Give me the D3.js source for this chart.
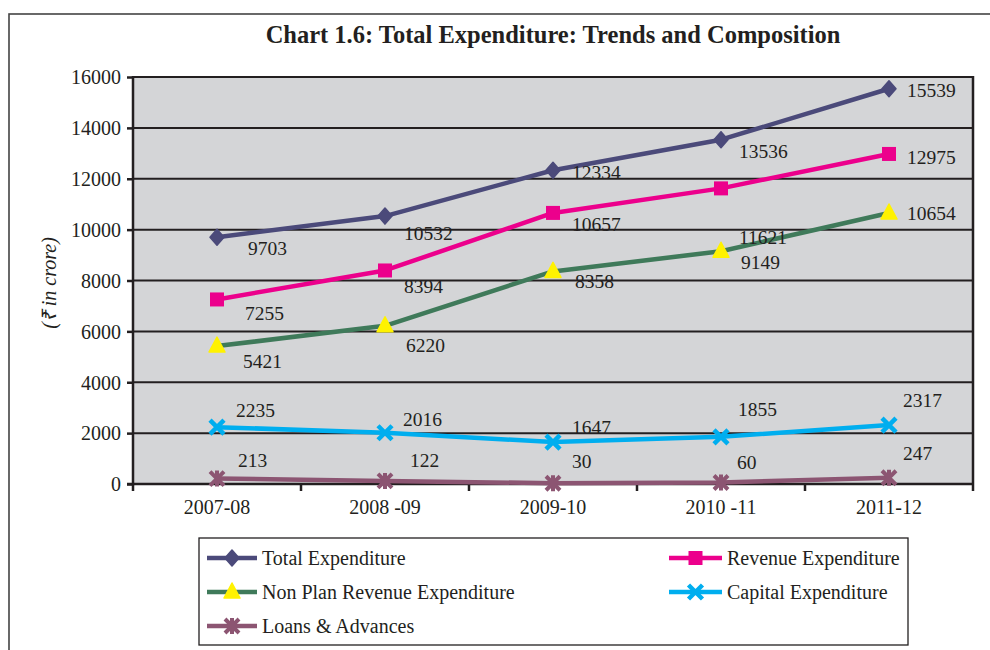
<!DOCTYPE html>
<html><head><meta charset="utf-8">
<script src="https://cdn.jsdelivr.net/npm/d3@7"></script>
<style>
html,body{margin:0;padding:0;background:#fff;}
svg{display:block;font-family:"Liberation Serif","Times New Roman",serif;}
</style></head>
<body><svg id="c" width="990" height="650"></svg>
<script>
const categories = ["2007-08", "2008 -09", "2009-10", "2010 -11", "2011-12"];
const totalExpenditure = [9703, 10532, 12334, 13536, 15539];
const revenueExpenditure = [7255, 8394, 10657, 11621, 12975];
const nonPlanRevenueExpenditure = [5421, 6220, 8358, 9149, 10654];
const capitalExpenditure = [2235, 2016, 1647, 1855, 2317];
const loansAdvances = [213, 122, 30, 60, 247];
const yTicks = [0, 2000, 4000, 6000, 8000, 10000, 12000, 14000, 16000];
const seriesNames = ["Total Expenditure", "Revenue Expenditure", "Non Plan Revenue Expenditure", "Capital Expenditure", "Loans & Advances"];
const titleText = "Chart 1.6: Total Expenditure: Trends and Composition";
const yLabelText = "(\u20B9 in crore)";

// layout / style (not data)
const lineColors = ["#4b4a7a", "#ec008c", "#3f7a5a", "#00aeef", "#8c5572"];
const markerFill = ["#4b4a7a", "#ec008c", "#fff200", "#00aeef", "#8c5572"];
const markerKind = ["diamond", "square", "triangle", "x", "star"];
// label nudges (dx, dy) relative to the point, per series per point
const labelDX = [[31,19,19,18,18],[28,19,19,18,18],[26,21,22,20,18],[19,18,19,17,14],[21,25,19,16,14]];
const labelDY = [[11,17,2,11,1],[14,16,11,49,3],[15,19,10,11,0],[-17,-14,-15,-28,-25],[-18,-21,-22,-20,-25]];

const svg = d3.select("#c");
const data = [totalExpenditure, revenueExpenditure, nonPlanRevenueExpenditure, capitalExpenditure, loansAdvances];

// outer frame
svg.append("rect").attr("x", 9).attr("y", 14).attr("width", 1100).attr("height", 800)
  .attr("fill", "none").attr("stroke", "#444").attr("stroke-width", 1.6);

const L = 133, R = 973, T = 77, B = 484;
const x = d3.scaleBand().domain(categories).range([L, R]).padding(0);
const y = d3.scaleLinear().domain([0, 16000]).range([B, T]);

svg.append("rect").attr("x", L).attr("y", T).attr("width", R - L).attr("height", B - T).attr("fill", "#d4d5d7");

// gridlines
svg.append("g").selectAll("line").data(yTicks.filter(d => d > 0)).join("line")
  .attr("x1", L).attr("x2", R).attr("y1", d => y(d)).attr("y2", d => y(d))
  .attr("stroke", "#231f20").attr("stroke-width", 2);
// right border
svg.append("line").attr("x1", R).attr("x2", R).attr("y1", T - 1).attr("y2", B)
  .attr("stroke", "#231f20").attr("stroke-width", 2.5);

// y axis
const yAxis = d3.axisLeft(y).tickValues(yTicks).tickSize(6).tickPadding(6).tickFormat(d3.format("d"));
const gy = svg.append("g").attr("transform", `translate(${L},0)`).call(yAxis);
gy.select(".domain").attr("stroke", "#231f20").attr("stroke-width", 2.5).attr("d", `M-6,${B}H0V${T - 1}`);
gy.selectAll(".tick line").attr("stroke", "#231f20").attr("stroke-width", 2.5);
gy.selectAll("text").attr("font-family", "Liberation Serif").attr("font-size", 20).attr("fill", "#231f20").attr("dy", "0.34em");

// x axis
const boundaries = categories.map(c => x(c)).concat([R]);
const xAxis = d3.axisBottom(x).tickSize(0).tickPadding(16);
const gx = svg.append("g").attr("transform", `translate(0,${B})`).call(xAxis);
gx.select(".domain").attr("stroke", "#231f20").attr("stroke-width", 2.5).attr("d", `M${L},0H${R}`);
gx.selectAll("text").attr("font-family", "Liberation Serif").attr("font-size", 20).attr("fill", "#231f20");
gx.selectAll("line.bd").data(boundaries).join("line").attr("class", "bd")
  .attr("x1", d => d).attr("x2", d => d).attr("y1", 0).attr("y2", 7)
  .attr("stroke", "#231f20").attr("stroke-width", 2.5);

// title
svg.append("text").attr("x", 553).attr("y", 43).attr("text-anchor", "middle")
  .attr("font-size", 24.5).attr("font-weight", "bold").attr("fill", "#231f20").text(titleText);

// y label
svg.append("text").attr("transform", "translate(56,283) rotate(-90)").attr("text-anchor", "middle")
  .attr("font-size", 20).attr("font-style", "italic").attr("fill", "#231f20").text(yLabelText);

function drawMarker(g, kind, i, cx, cy) {
  const col = markerFill[i];
  if (kind === "diamond") {
    g.append("path").attr("d", `M${cx},${cy - 8}L${cx + 7},${cy}L${cx},${cy + 8}L${cx - 7},${cy}Z`)
      .attr("fill", col).attr("stroke", col).attr("stroke-width", 1.5).attr("stroke-linejoin", "round");
  } else if (kind === "square") {
    g.append("rect").attr("x", cx - 7).attr("y", cy - 7).attr("width", 14).attr("height", 14).attr("fill", col);
  } else if (kind === "triangle") {
    g.append("path").attr("d", `M${cx},${cy - 9}L${cx + 8},${cy + 6}L${cx - 8},${cy + 6}Z`).attr("fill", col)
      .attr("stroke", col).attr("stroke-linejoin", "round").attr("stroke-width", 1.5);
  } else if (kind === "x") {
    g.append("path").attr("d", `M${cx - 7},${cy - 7}L${cx + 7},${cy + 7}M${cx + 7},${cy - 7}L${cx - 7},${cy + 7}`)
      .attr("stroke", col).attr("stroke-width", 4.5).attr("fill", "none");
  } else {
    g.append("path").attr("d", `M${cx - 7},${cy - 7}L${cx + 7},${cy + 7}M${cx + 7},${cy - 7}L${cx - 7},${cy + 7}M${cx},${cy - 8}L${cx},${cy + 8}`)
      .attr("stroke", col).attr("stroke-width", 4).attr("fill", "none");
  }
}

const line = d3.line().x((d, j) => x(categories[j]) + x.bandwidth() / 2).y(d => y(d));
const gs = svg.append("g");
data.forEach((vals, i) => {
  gs.append("path").datum(vals).attr("d", line).attr("fill", "none")
    .attr("stroke", lineColors[i]).attr("stroke-width", 4.5).attr("stroke-linejoin", "round");
});
data.forEach((vals, i) => {
  vals.forEach((v, j) => {
    drawMarker(gs, markerKind[i], i, x(categories[j]) + x.bandwidth() / 2, y(v));
  });
});
const gl = svg.append("g");
data.forEach((vals, i) => {
  vals.forEach((v, j) => {
    gl.append("text").attr("x", x(categories[j]) + x.bandwidth() / 2 + labelDX[i][j])
      .attr("y", y(v) + labelDY[i][j]).attr("dy", "0.35em")
      .attr("font-size", 19.5).attr("fill", "#231f20").text(v);
  });
});

// legend
const lg = svg.append("g");
lg.append("rect").attr("x", 199).attr("y", 538).attr("width", 709).attr("height", 107)
  .attr("fill", "#fff").attr("stroke", "#231f20").attr("stroke-width", 1.3);
const legPos = [[207, 558], [669, 558], [207, 592], [669, 592], [207, 626]];
seriesNames.forEach((name, i) => {
  const [lx, ly] = legPos[i];
  const w = i % 2 === 0 ? 50 : 53;
  lg.append("line").attr("x1", lx).attr("x2", lx + w).attr("y1", ly).attr("y2", ly)
    .attr("stroke", lineColors[i]).attr("stroke-width", 4.5);
  drawMarker(lg, markerKind[i], i, lx + w / 2, ly);
  lg.append("text").attr("x", lx + w + 5).attr("y", ly).attr("dy", "0.35em")
    .attr("font-size", 20).attr("fill", "#231f20").text(name);
});
</script></body></html>
